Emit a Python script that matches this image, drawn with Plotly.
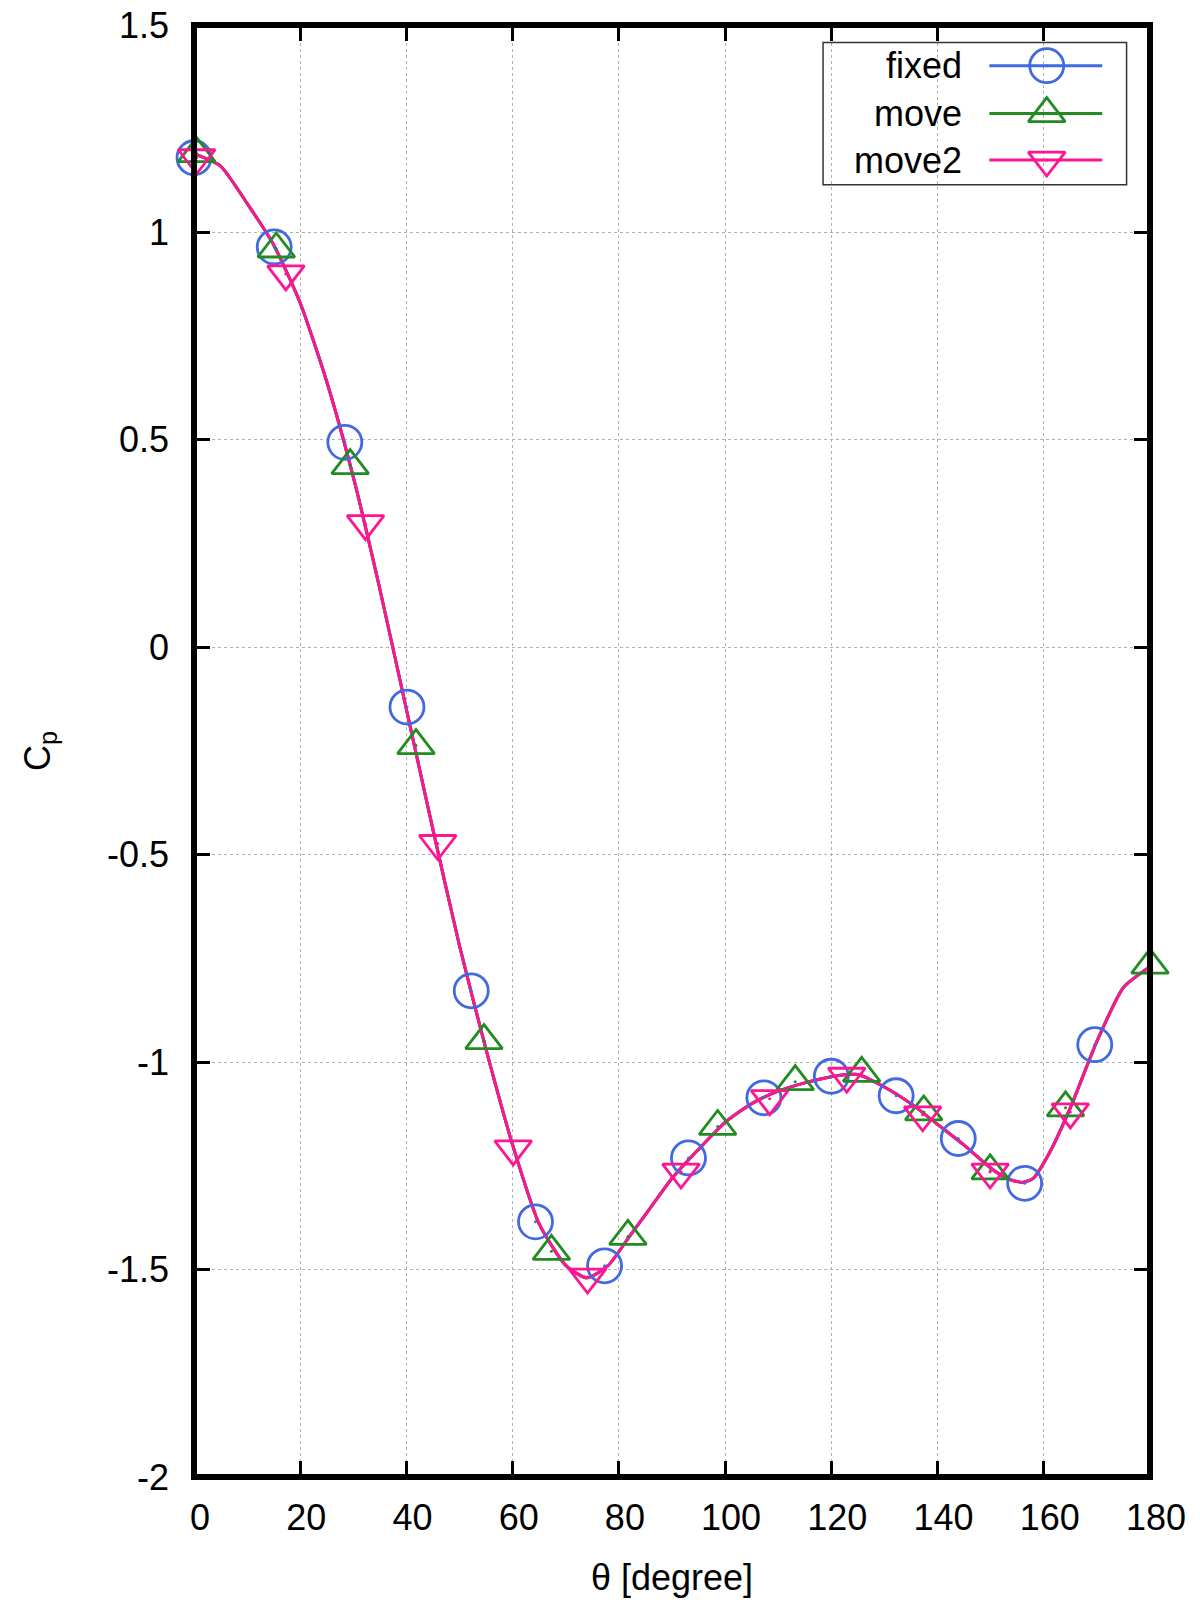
import plotly.graph_objects as go

# ---- data ----
# shared smooth curve (all three runs overlap almost exactly)
theta_line = [0, 5, 10, 15, 20, 25, 30, 35, 40, 45, 50, 55, 60, 65, 70, 74, 78, 82, 86, 90,
              95, 100, 105, 110, 115, 120, 125, 130, 135, 140, 145, 150, 153, 156, 158, 161,
              165, 170, 175, 180]
cp_line = [1.19, 1.16, 1.07, 0.97, 0.83, 0.64, 0.41, 0.14, -0.15, -0.44, -0.72, -0.97, -1.20,
           -1.39, -1.49, -1.52, -1.49, -1.42, -1.35, -1.28, -1.21, -1.145, -1.10, -1.07, -1.05,
           -1.035, -1.03, -1.06, -1.10, -1.15, -1.20, -1.255, -1.28, -1.29, -1.28, -1.22,
           -1.11, -0.95, -0.82, -0.77]

theta_fixed = [0, 15.1, 28.4, 40.1, 52.2, 64.3, 77.3, 93.1, 107.3, 120.0, 132.2, 143.9, 156.4, 169.6]
cp_fixed = [1.18, 0.965, 0.494, -0.144, -0.828, -1.385, -1.491, -1.231, -1.086, -1.034, -1.081,
            -1.184, -1.292, -0.958]

theta_move = [0.5, 15.5, 29.4, 41.8, 54.6, 67.3, 81.7, 98.6, 113.2, 125.7, 137.4, 149.9, 164.1, 180.0]
cp_move = [1.19, 0.96, 0.438, -0.237, -0.948, -1.456, -1.42, -1.155, -1.047, -1.027, -1.12,
           -1.262, -1.11, -0.766]

theta_move2 = [0.5, 17.3, 32.3, 45.9, 60.1, 74.1, 91.7, 108.4, 122.9, 137.2, 149.9, 165.0]
cp_move2 = [1.18, 0.90, 0.298, -0.473, -1.209, -1.518, -1.265, -1.088, -1.034, -1.127, -1.265, -1.12]

series_names = ["fixed", "move", "move2"]
series_colors = ["#4169e1", "#228b22", "#ff1493"]
series_symbols = ["circle-open", "triangle-up-open", "triangle-down-open"]
marker_sizes = [34, 32, 32]

x_ticks = [0, 20, 40, 60, 80, 100, 120, 140, 160, 180]
y_ticks = [-2, -1.5, -1, -0.5, 0, 0.5, 1, 1.5]
y_ticktext = ["-2", "-1.5", "-1", "-0.5", "0", "0.5", "1", "1.5"]

FONT = "Liberation Sans, Arial, sans-serif"

fig = go.Figure()

thetas = [theta_fixed, theta_move, theta_move2]
cps = [cp_fixed, cp_move, cp_move2]

for i in range(3):
    fig.add_trace(go.Scatter(x=theta_line, y=cp_line, mode="lines",
                             line=dict(color=series_colors[i], width=3, shape="spline", smoothing=0.6),
                             showlegend=False, cliponaxis=False, hoverinfo="skip"))
for i in range(3):
    fig.add_trace(go.Scatter(x=thetas[i], y=cps[i], mode="markers", name=series_names[i],
                             marker=dict(symbol=series_symbols[i], size=marker_sizes[i],
                                         color=series_colors[i], line=dict(width=2.8, color=series_colors[i])),
                             showlegend=False, cliponaxis=False))
    fig.add_trace(go.Scatter(x=thetas[i], y=cps[i], mode="markers",
                             marker=dict(symbol="circle", size=3, color=series_colors[i]),
                             showlegend=False, cliponaxis=False, hoverinfo="skip"))

# ---- custom gnuplot-style legend (overlay axes 0..1) ----
legend_rows = [0.972, 0.939, 0.907]
for i in range(3):
    y = legend_rows[i]
    fig.add_trace(go.Scatter(x=[0.832, 0.950], y=[y, y], mode="lines", xaxis="x2", yaxis="y2",
                             line=dict(color=series_colors[i], width=3), showlegend=False, hoverinfo="skip"))
    fig.add_trace(go.Scatter(x=[0.892], y=[y], mode="markers", xaxis="x2", yaxis="y2",
                             marker=dict(symbol=series_symbols[i], size=marker_sizes[i], color=series_colors[i],
                                         line=dict(width=2.8, color=series_colors[i])),
                             showlegend=False, hoverinfo="skip"))
    fig.add_trace(go.Scatter(x=[0.892], y=[y], mode="markers", xaxis="x2", yaxis="y2",
                             marker=dict(symbol="circle", size=3, color=series_colors[i]),
                             showlegend=False, hoverinfo="skip"))
    fig.add_annotation(x=0.805, y=y, xref="paper", yref="paper", text=series_names[i],
                       showarrow=False, xanchor="right", yanchor="middle",
                       font=dict(family=FONT, size=36, color="black"))

fig.add_shape(type="rect", xref="paper", yref="paper", x0=0.658, x1=0.9755, y0=0.890, y1=0.988,
              line=dict(color="#333333", width=1.5), fillcolor="rgba(0,0,0,0)")

# thick gnuplot border centred on the plot edges
fig.add_shape(type="rect", xref="paper", yref="paper", x0=0, x1=1, y0=0, y1=1,
              line=dict(color="black", width=6), fillcolor="rgba(0,0,0,0)", layer="above")

axis_common = dict(showline=False, mirror="ticks",
                   ticks="inside", ticklen=16, tickwidth=2.5, tickcolor="black",
                   showgrid=True, gridcolor="#b0b0b0", griddash="dot", gridwidth=1,
                   zeroline=False, ticklabeloverflow="allow",
                   tickfont=dict(family=FONT, size=36, color="black"))

fig.update_layout(
    width=1200, height=1600,
    margin=dict(l=185.5, r=57.5, t=16.5, b=131),
    paper_bgcolor="white", plot_bgcolor="white",
    showlegend=False,
    xaxis=dict(range=[0, 180], tickvals=x_ticks, ticktext=[str(v) for v in x_ticks],
               ticklabelstandoff=16, ticklabelshift=6,
               title=dict(text="θ [degree]", font=dict(family=FONT, size=36, color="black"), standoff=27),
               automargin=False, **axis_common),
    yaxis=dict(range=[-2, 1.5], tickvals=y_ticks, ticktext=y_ticktext,
               ticklabelstandoff=24,
               title=dict(text="C<sub>p</sub>", font=dict(family=FONT, size=36, color="black"), standoff=45),
               automargin=False, **axis_common),
    xaxis2=dict(range=[0, 1], overlaying="x", visible=False, fixedrange=True),
    yaxis2=dict(range=[0, 1], overlaying="y", visible=False, fixedrange=True),
)

fig.write_html("out.html")
